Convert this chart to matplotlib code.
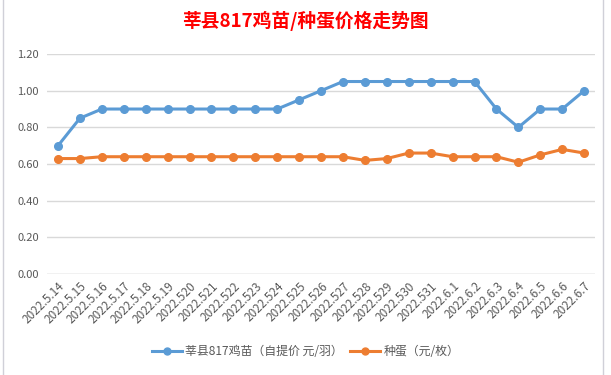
import matplotlib
matplotlib.use('Agg')
from matplotlib import pyplot as plt
from matplotlib.lines import Line2D

plt.rcParams['font.family'] = ['Noto Sans CJK SC', 'DejaVu Sans']

dates = ['2022.5.14', '2022.5.15', '2022.5.16', '2022.5.17', '2022.5.18',
         '2022.5.19', '2022.520', '2022.521', '2022.522', '2022.523',
         '2022.524', '2022.525', '2022.526', '2022.527', '2022.528',
         '2022.529', '2022.530', '2022.531', '2022.6.1', '2022.6.2',
         '2022.6.3', '2022.6.4', '2022.6.5', '2022.6.6', '2022.6.7']
chick = [0.70, 0.85, 0.90, 0.90, 0.90, 0.90, 0.90, 0.90, 0.90, 0.90,
         0.90, 0.95, 1.00, 1.05, 1.05, 1.05, 1.05, 1.05, 1.05, 1.05,
         0.90, 0.80, 0.90, 0.90, 1.00]
egg = [0.63, 0.63, 0.64, 0.64, 0.64, 0.64, 0.64, 0.64, 0.64, 0.64,
       0.64, 0.64, 0.64, 0.64, 0.62, 0.63, 0.66, 0.66, 0.64, 0.64,
       0.64, 0.61, 0.65, 0.68, 0.66]
yticks = [0.0, 0.2, 0.4, 0.6, 0.8, 1.0, 1.2]

blue = '#5B9BD5'
orange = '#ED7D31'
gray = '#595959'

fig = plt.figure(figsize=(6.11, 3.75), dpi=100)
ax = fig.add_axes([0.077, 0.269, 0.897, 0.587])

x = list(range(len(dates)))
ax.plot(x, chick, color=blue, lw=2.2, marker='o', ms=5.5, zorder=3)
ax.plot(x, egg, color=orange, lw=2.2, marker='o', ms=5.5, zorder=3)

ax.set_xlim(-0.5, len(dates) - 0.5)
ax.set_ylim(0, 1.2)
ax.set_yticks(yticks)
ax.set_yticklabels([f'{v:.2f}' for v in yticks], color=gray, fontsize=8)
ax.set_xticks(x)
ax.set_xticklabels(dates, rotation=45, ha='right', rotation_mode='anchor',
                   color=gray, fontsize=8.5)
ax.tick_params(length=0, pad=6)
ax.tick_params(axis='x', pad=4)
ax.grid(axis='y', color='#d9d9d9', lw=1)
for s in ax.spines.values():
    s.set_visible(False)
ax.axhline(0, color='#d9d9d9', lw=1)

fig.suptitle('莘县817鸡苗/种蛋价格走势图', color='red', fontsize=13.5,
             fontweight='bold', y=0.97)

handles = [Line2D([], [], color=blue, lw=2.2, marker='o', ms=5),
           Line2D([], [], color=orange, lw=2.2, marker='o', ms=5)]
fig.legend(handles, ['莘县817鸡苗（自提价 元/羽）', '种蛋（元/枚）'],
           loc='center', bbox_to_anchor=(0.5, 0.062), ncol=2, frameon=False,
           fontsize=8.6, labelcolor=gray, handlelength=2.5, columnspacing=0.6,
           handletextpad=0.3)

# faint spreadsheet borders
fig.add_artist(Line2D([0.005, 0.005], [0, 1], color='#d0d0d8', lw=1))
fig.add_artist(Line2D([0.987, 0.987], [0, 1], color='#d0d0d8', lw=1))

fig.savefig('out.png', dpi=100)
